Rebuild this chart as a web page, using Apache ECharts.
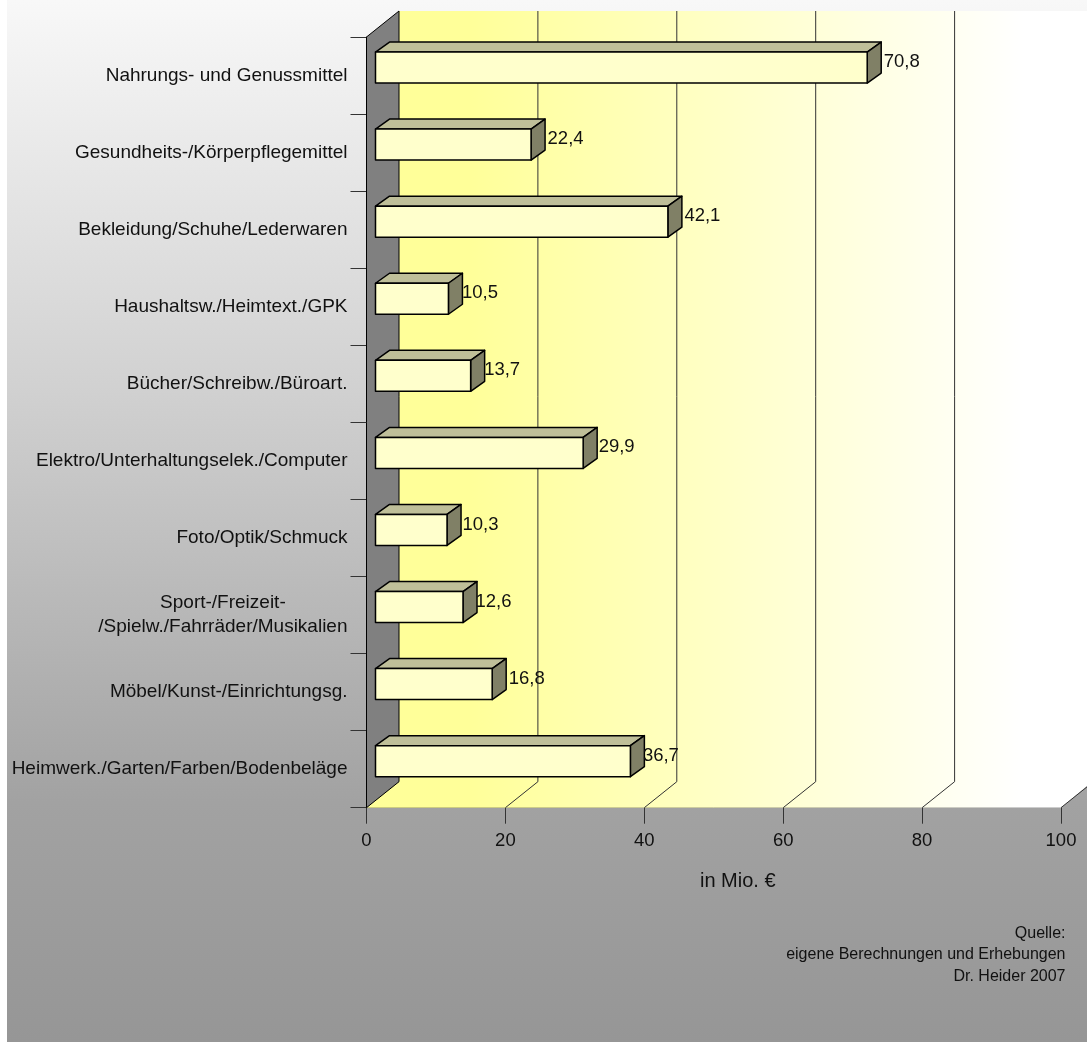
<!DOCTYPE html>
<html>
<head>
<meta charset="utf-8">
<style>
  html, body { margin: 0; padding: 0; background: #fff; overflow: hidden; }
  #chart { position: absolute; left: 7px; top: 0; width: 1080px; height: 1042px; }
</style>
<script src="https://cdn.jsdelivr.net/npm/echarts@6/dist/echarts.min.js"></script>
</head>
<body>
<div id="chart"></div>
<script>
// Umsatz nach Warengruppen, in Mio. Euro
const categories = [
  'Nahrungs- und Genussmittel',
  'Gesundheits-/Körperpflegemittel',
  'Bekleidung/Schuhe/Lederwaren',
  'Haushaltsw./Heimtext./GPK',
  'Bücher/Schreibw./Büroart.',
  'Elektro/Unterhaltungselek./Computer',
  'Foto/Optik/Schmuck',
  'Sport-/Freizeit-\n/Spielw./Fahrräder/Musikalien',
  'Möbel/Kunst-/Einrichtungsg.',
  'Heimwerk./Garten/Farben/Bodenbeläge'
];
const values = [70.8, 22.4, 42.1, 10.5, 13.7, 29.9, 10.3, 12.6, 16.8, 36.7];
const gridTicks = [20, 40, 60, 80, 100];
const axisMax = 100;
const sourceLines = ['Quelle:', 'eigene Berechnungen und Erhebungen', 'Dr. Heider 2007'];

// Pseudo-3D projection: how far the back wall sits from the axis plane
const DEPTH_X = 32.5, DEPTH_Y = -26;
// The bar occupies this slice of the depth
const BAR_FRONT = [9, -8], BAR_BACK = [23, -18];
const BAR_HALF = 15.5;
const FONT = '"Liberation Sans", Arial, sans-serif';
const TICK_SIZE = 18.5;
const CATEGORY_SIZE = 19;
// Horizontal fine-tuning of each value label, in pixels
const labelNudge = [0, 0, 0, -3, -3, -1, -1, -4, 0, -4];

const shift = (p, dx, dy) => [p[0] + dx, p[1] + dy];

// Walls and floor share one horizontal ramp so they meet without a seam
function wallGradient(area) {
  const x0 = area.x + DEPTH_X;
  return new echarts.graphic.LinearGradient(x0, 0, x0 + area.width, 0, [
    { offset: 0, color: '#ffff99' },
    { offset: 0.1, color: '#ffff99' },
    { offset: 0.9, color: '#ffffff' },
    { offset: 1, color: '#ffffff' }
  ], true);
}

// Left wall, back wall and floor of the box
function renderBox(params, api) {
  const area = params.coordSys;
  const tl = [area.x, area.y];
  const bl = [area.x, area.y + area.height];
  const br = [area.x + area.width, area.y + area.height];
  const tr = [area.x + area.width, area.y];
  const back = p => shift(p, DEPTH_X, DEPTH_Y);
  return {
    type: 'group',
    children: [
      // The floor runs a pixel under the wall to close the hairline between them
      { type: 'polygon', shape: { points: [bl, shift(back(bl), 0, -1), shift(back(br), 0, -1), br] },
        style: { fill: wallGradient(area) } },
      { type: 'polygon', shape: { points: [back(tl), back(tr), back(br), back(bl)] },
        style: { fill: wallGradient(area) } },
      { type: 'polygon', shape: { points: [tl, back(tl), back(bl), bl] },
        style: { fill: '#808080', stroke: '#000', lineWidth: 1 } }
    ]
  };
}

// One back-wall gridline plus its diagonal across the floor
function renderGridLine(params, api) {
  const foot = api.coord([api.value(0), categories.length - 0.5]);
  const p0 = [foot[0], params.coordSys.y + params.coordSys.height];
  const p1 = shift(p0, DEPTH_X, DEPTH_Y);
  const p2 = [p1[0], params.coordSys.y + DEPTH_Y];
  return {
    type: 'polyline',
    shape: { points: [p0, p1, p2] },
    style: { fill: null, stroke: '#333', lineWidth: 1 }
  };
}

function renderBar(params, api) {
  const v = api.value(0);
  const start = api.coord([0, api.value(1)]);
  const end = api.coord([v, api.value(1)]);
  const fl = shift(start, BAR_FRONT[0], BAR_FRONT[1]);
  const fr = shift(end, BAR_FRONT[0], BAR_FRONT[1]);
  const ftl = shift(fl, 0, -BAR_HALF), fbl = shift(fl, 0, BAR_HALF);
  const ftr = shift(fr, 0, -BAR_HALF), fbr = shift(fr, 0, BAR_HALF);
  const dx = BAR_BACK[0] - BAR_FRONT[0], dy = BAR_BACK[1] - BAR_FRONT[1];
  const edge = { stroke: '#000', lineWidth: 1.5, lineJoin: 'round' };
  return {
    type: 'group',
    children: [
      { type: 'polygon', shape: { points: [ftl, shift(ftl, dx, dy), shift(ftr, dx, dy), ftr] },
        style: Object.assign({ fill: '#bfbf99' }, edge) },
      { type: 'polygon', shape: { points: [ftr, shift(ftr, dx, dy), shift(fbr, dx, dy), fbr] },
        style: Object.assign({ fill: '#808066' }, edge) },
      { type: 'polygon', shape: { points: [ftl, ftr, fbr, fbl] },
        style: Object.assign({ fill: '#ffffcc' }, edge) },
      { type: 'text',
        style: { x: end[0] + 25.5 + labelNudge[params.dataIndex], y: end[1] - 13.5,
                 text: v.toFixed(1).replace('.', ','),
                 fill: '#111', font: TICK_SIZE + 'px ' + FONT, align: 'left', verticalAlign: 'middle' } }
    ]
  };
}

const chart = echarts.init(document.getElementById('chart'), null, { renderer: 'canvas' });
chart.setOption({
  animation: false,
  backgroundColor: new echarts.graphic.LinearGradient(0, 0, 0, 1, [
    { offset: 0, color: '#f8f8f8' },
    { offset: 0.38, color: '#d0d0d0' },
    { offset: 0.77, color: '#a2a2a2' },
    { offset: 1, color: '#969696' }
  ]),
  grid: { left: 359.5, right: 26, top: 37, bottom: 234.3, containLabel: false },
  title: {
    text: sourceLines.join('\n'),
    left: 1053.5, top: 917.5,
    textAlign: 'right',
    textStyle: { fontFamily: FONT, fontSize: 16, fontWeight: 'normal', color: '#111', lineHeight: 21.5 }
  },
  xAxis: {
    type: 'value', min: 0, max: axisMax, interval: 20,
    position: 'bottom',
    name: 'in Mio. €',
    nameLocation: 'middle',
    nameGap: 64,
    nameTextStyle: { fontFamily: FONT, fontSize: 20, color: '#111', padding: [0, 0, 0, 48] },
    axisLine: { show: true, lineStyle: { color: '#333', width: 1 } },
    axisTick: { show: true, length: 16, lineStyle: { color: '#333', width: 1 } },
    axisLabel: { fontFamily: FONT, fontSize: TICK_SIZE, color: '#111', margin: 24 },
    splitLine: { show: false }
  },
  yAxis: {
    type: 'category', inverse: true, data: categories,
    axisLine: { show: true, onZero: false, lineStyle: { color: '#000', width: 1 } },
    axisTick: { show: true, length: 16, lineStyle: { color: '#333', width: 1 } },
    axisLabel: {
      margin: 19, interval: 0, fontFamily: FONT, fontSize: CATEGORY_SIZE, color: '#111', lineHeight: 24,
      formatter: s => s.includes('\n') ? s.split('\n').map(t => '{c|' + t + '}').join('\n') : s,
      rich: { c: { align: 'center', fontFamily: FONT, fontSize: CATEGORY_SIZE, color: '#111', lineHeight: 24 } }
    }
  },
  series: [
    { type: 'custom', coordinateSystem: 'cartesian2d', z: 1, silent: true,
      renderItem: renderBox, data: [[0, 0]], encode: { x: 0, y: 1 } },
    { type: 'custom', coordinateSystem: 'cartesian2d', z: 2, silent: true,
      renderItem: renderGridLine, data: gridTicks.map(t => [t, 0]), encode: { x: 0, y: 1 } },
    { type: 'custom', coordinateSystem: 'cartesian2d', z: 3, silent: true,
      renderItem: renderBar, data: values.map((v, i) => [v, i]), encode: { x: 0, y: 1 } }
  ]
});
</script>
</body>
</html>
